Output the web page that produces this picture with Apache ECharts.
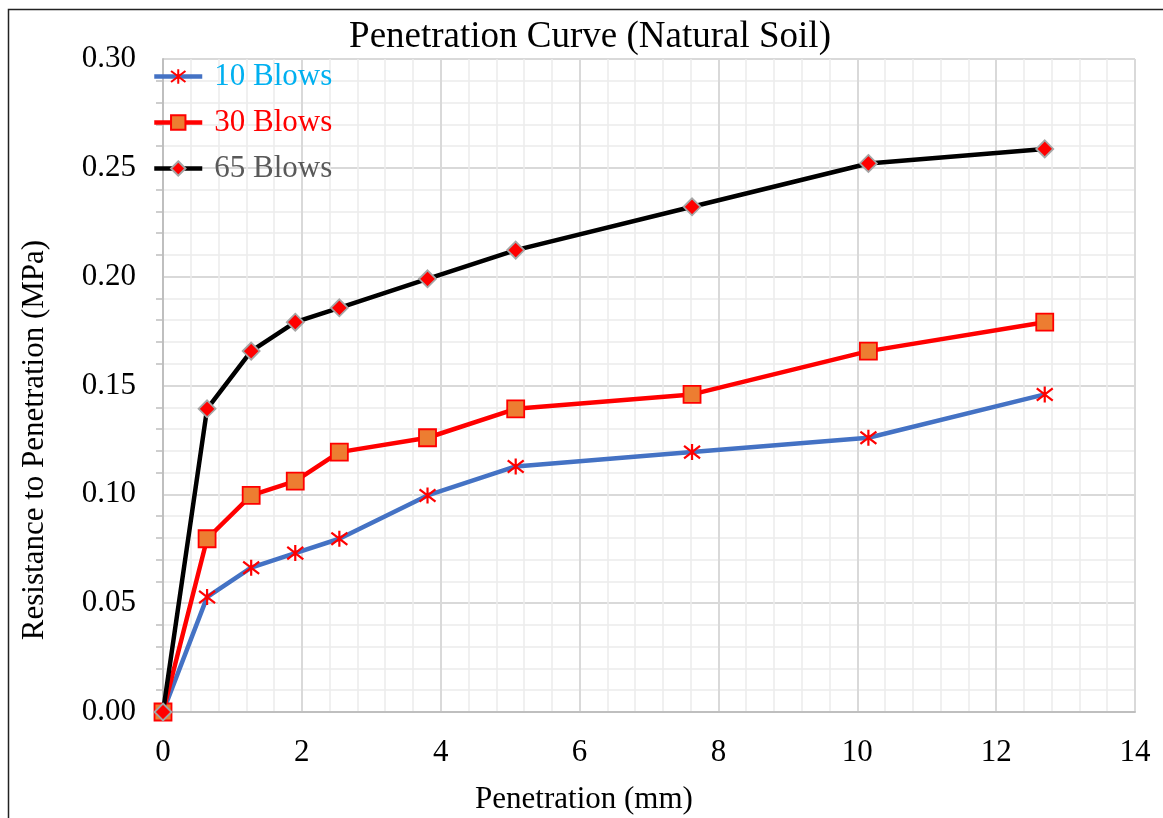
<!DOCTYPE html>
<html>
<head>
<meta charset="utf-8">
<script src="https://cdn.jsdelivr.net/npm/echarts@6/dist/echarts.min.js"></script>
<style>
  html, body { margin: 0; padding: 0; background: #fff; }
  #chart { width: 1163px; height: 818px; }
</style>
</head>
<body>
<div id="chart"></div>
<script>
// Penetration depths (mm) of the CBR test readings
const penetration = [0, 0.635, 1.27, 1.905, 2.54, 3.81, 5.08, 7.62, 10.16, 12.7];
// Resistance to penetration (MPa) for each compaction effort
const blows10 = [0, 0.0528, 0.0663, 0.0730, 0.0796, 0.0995, 0.1128, 0.1194, 0.1260, 0.1459];
const blows30 = [0, 0.0796, 0.0995, 0.1061, 0.1194, 0.1260, 0.1393, 0.1459, 0.1658, 0.1791];
const blows65 = [0, 0.1393, 0.1658, 0.1791, 0.1857, 0.1990, 0.2122, 0.2321, 0.2520, 0.2587];
const seriesNames = ['10 Blows', '30 Blows', '65 Blows'];

const FONT = '"Liberation Serif", "Times New Roman", serif';
const pairs = ys => penetration.map((x, i) => [x, ys[i]]);

const asterisk = 'path://M0,0L10,10M10,0L0,10M5,-1.5L5,11.5';

const chart = echarts.init(document.getElementById('chart'), null, { renderer: 'canvas' });
chart.setOption({
  animation: false,
  backgroundColor: '#fff',
  textStyle: { fontFamily: FONT },
  title: {
    text: 'Penetration Curve (Natural Soil)',
    left: 585, top: 14, textAlign: 'center',
    textStyle: { fontFamily: FONT, fontSize: 37, fontWeight: 'normal', color: '#000' }
  },
  legend: {
    left: 147, top: 56, orient: 'vertical', itemGap: 15,
    itemWidth: 48, itemHeight: 18,
    lineStyle: { width: 4.5 },
    textStyle: { fontFamily: FONT, fontSize: 31, padding: [0, 0, 0, 7] },
    data: [
      { name: seriesNames[0], textStyle: { color: '#00b0f0' } },
      { name: seriesNames[1], textStyle: { color: '#ff0000' } },
      { name: seriesNames[2], textStyle: { color: '#595959' } }
    ]
  },
  grid: { left: 163, right: 28, top: 59, bottom: 106 },
  xAxis: {
    type: 'value', min: 0, max: 14, interval: 2,
    axisLine: { show: true, lineStyle: { color: '#bfbfbf', width: 2 } },
    axisTick: { show: false },
    minorTick: { show: false, splitNumber: 5 },
    minorSplitLine: { show: true, lineStyle: { color: '#ececec', width: 1.5 } },
    splitLine: { show: true, lineStyle: { color: '#d9d9d9', width: 2 } },
    axisLabel: { fontFamily: FONT, fontSize: 31, color: '#000', margin: 25 }
  },
  yAxis: {
    type: 'value', min: 0, max: 0.30, interval: 0.05,
    axisLine: { show: true, lineStyle: { color: '#bfbfbf', width: 2 } },
    axisTick: { show: false },
    minorTick: { show: true, splitNumber: 5, length: 7, lineStyle: { color: '#bfbfbf', width: 1.5 } },
    minorSplitLine: { show: true, lineStyle: { color: '#ececec', width: 1.5 } },
    splitLine: { show: true, lineStyle: { color: '#d9d9d9', width: 2 } },
    axisLabel: { fontFamily: FONT, fontSize: 31, color: '#000', margin: 27,
      formatter: v => v.toFixed(2) }
  },
  graphic: [
    { type: 'rect', silent: true, z: 100,
      shape: { x: 8.5, y: 9.5, width: 1170, height: 830 },
      style: { fill: 'none', stroke: '#222', lineWidth: 1.5 } },
    { type: 'text', silent: true, x: 584, y: 800,
      style: { text: 'Penetration (mm)', fontFamily: FONT, fontSize: 31, fill: '#000',
        align: 'center', verticalAlign: 'middle' } },
    { type: 'text', silent: true, x: 35, y: 440, rotation: Math.PI / 2,
      style: { text: 'Resistance to Penetration (MPa)', fontFamily: FONT, fontSize: 31, fill: '#000',
        align: 'center', verticalAlign: 'middle' } }
  ],
  series: [
    {
      name: seriesNames[0], type: 'line', data: pairs(blows10), z: 3,
      lineStyle: { color: '#4472c4', width: 4.5 },
      symbol: asterisk, symbolSize: 16, showAllSymbol: true,
      itemStyle: { color: '#ff0000', borderColor: '#ff0000', borderWidth: 2.2 }
    },
    {
      name: seriesNames[1], type: 'line', data: pairs(blows30), z: 4,
      lineStyle: { color: '#ff0000', width: 4.5 },
      symbol: 'rect', symbolSize: 17, showAllSymbol: true,
      itemStyle: { color: '#ed7d31', borderColor: '#ff0000', borderWidth: 1.8 }
    },
    {
      name: seriesNames[2], type: 'line', data: pairs(blows65), z: 5,
      lineStyle: { color: '#000000', width: 4.5 },
      symbol: 'diamond', symbolSize: 17, showAllSymbol: true,
      itemStyle: { color: '#ff0000', borderColor: '#a5a5a5', borderWidth: 1.8 }
    }
  ]
});
</script>
</body>
</html>
